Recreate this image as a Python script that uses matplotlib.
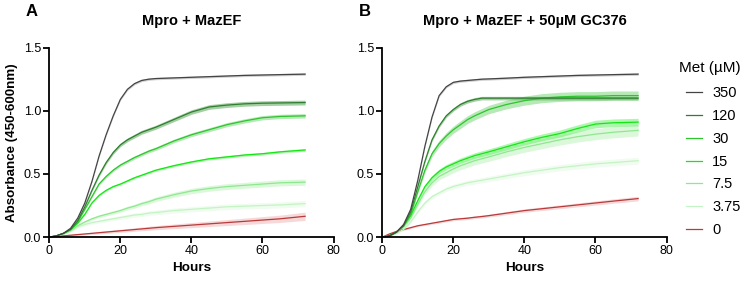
import matplotlib
matplotlib.use('Agg')
import matplotlib.pyplot as plt
import numpy as np

plt.rcParams['font.family'] = ['Liberation Sans', 'DejaVu Sans']

# sampling times (hours)
hours = [0, 2, 4, 6, 8, 10, 12, 14, 16, 18, 20, 22, 24, 26, 28, 30, 35, 40, 45, 50, 55, 60, 65, 72]

met_labels = ['350', '120', '30', '15', '7.5', '3.75', '0']
line_colors = ['#444444', '#2f7d2f', '#2ec42e', '#14e614', '#8ee88e', '#c4f4c4', '#b83a3a']
band_colors = ['#aaaaaa', '#5aa85a', '#7ad87a', '#6af06a', '#bff3bf', '#e2fae2', '#f2b8b8']

# panel A: Mpro + MazEF
a_350 = [0, 0.01, 0.03, 0.07, 0.15, 0.27, 0.44, 0.64, 0.81, 0.96, 1.09, 1.17, 1.215, 1.24, 1.25, 1.255, 1.26, 1.265, 1.27, 1.275, 1.28, 1.283, 1.286, 1.29]
a_120 = [0, 0.01, 0.03, 0.06, 0.13, 0.24, 0.37, 0.49, 0.59, 0.67, 0.73, 0.77, 0.80, 0.83, 0.85, 0.87, 0.93, 0.99, 1.03, 1.045, 1.055, 1.06, 1.062, 1.065]
a_30 = [0, 0.01, 0.03, 0.06, 0.12, 0.22, 0.32, 0.42, 0.48, 0.53, 0.57, 0.60, 0.63, 0.655, 0.68, 0.70, 0.76, 0.81, 0.85, 0.89, 0.92, 0.945, 0.955, 0.96]
a_15 = [0, 0.01, 0.03, 0.06, 0.11, 0.18, 0.27, 0.33, 0.37, 0.40, 0.42, 0.445, 0.47, 0.49, 0.51, 0.53, 0.565, 0.595, 0.62, 0.635, 0.65, 0.66, 0.675, 0.69]
a_7_5 = [0, 0.01, 0.025, 0.05, 0.09, 0.12, 0.145, 0.165, 0.18, 0.195, 0.21, 0.23, 0.245, 0.265, 0.28, 0.30, 0.335, 0.365, 0.385, 0.40, 0.41, 0.42, 0.43, 0.435]
a_3_75 = [0, 0.01, 0.025, 0.05, 0.08, 0.10, 0.115, 0.125, 0.135, 0.145, 0.155, 0.165, 0.175, 0.18, 0.19, 0.195, 0.21, 0.22, 0.23, 0.24, 0.245, 0.25, 0.255, 0.265]
a_0 = [0, 0.005, 0.01, 0.015, 0.02, 0.025, 0.03, 0.035, 0.04, 0.045, 0.05, 0.055, 0.06, 0.065, 0.07, 0.075, 0.085, 0.095, 0.105, 0.115, 0.125, 0.135, 0.145, 0.165]
a_spread = [0.005, 0.015, 0.015, 0.01, 0.05, 0.08, 0.18]  # relative error band

# panel B: Mpro + MazEF + 50uM GC376
b_350 = [0, 0.01, 0.04, 0.10, 0.22, 0.45, 0.72, 0.95, 1.12, 1.19, 1.225, 1.235, 1.24, 1.245, 1.25, 1.252, 1.258, 1.265, 1.27, 1.275, 1.28, 1.283, 1.286, 1.29]
b_120 = [0, 0.01, 0.04, 0.09, 0.20, 0.40, 0.60, 0.77, 0.88, 0.96, 1.01, 1.05, 1.075, 1.09, 1.10, 1.10, 1.10, 1.10, 1.10, 1.10, 1.10, 1.10, 1.10, 1.10]
b_30 = [0, 0.01, 0.04, 0.09, 0.18, 0.36, 0.53, 0.66, 0.74, 0.80, 0.85, 0.89, 0.93, 0.96, 0.985, 1.01, 1.05, 1.08, 1.10, 1.11, 1.115, 1.115, 1.12, 1.12]
b_15 = [0, 0.01, 0.04, 0.09, 0.17, 0.29, 0.40, 0.47, 0.52, 0.555, 0.58, 0.605, 0.625, 0.645, 0.66, 0.675, 0.715, 0.755, 0.79, 0.82, 0.86, 0.895, 0.905, 0.91]
b_7_5 = [0, 0.01, 0.035, 0.08, 0.15, 0.26, 0.36, 0.43, 0.48, 0.51, 0.54, 0.565, 0.585, 0.605, 0.62, 0.635, 0.675, 0.71, 0.74, 0.77, 0.795, 0.815, 0.83, 0.845]
b_3_75 = [0, 0.01, 0.03, 0.06, 0.12, 0.20, 0.27, 0.32, 0.35, 0.38, 0.40, 0.415, 0.43, 0.44, 0.45, 0.46, 0.485, 0.51, 0.53, 0.55, 0.565, 0.58, 0.59, 0.605]
b_0 = [0, 0.025, 0.045, 0.06, 0.075, 0.09, 0.10, 0.11, 0.12, 0.13, 0.14, 0.145, 0.15, 0.157, 0.163, 0.17, 0.19, 0.21, 0.225, 0.24, 0.255, 0.27, 0.285, 0.305]
b_spread = [0.005, 0.01, 0.03, 0.03, 0.05, 0.04, 0.05]

panels = [
    ('A', 'Mpro + MazEF', [a_350, a_120, a_30, a_15, a_7_5, a_3_75, a_0], a_spread),
    ('B', 'Mpro + MazEF + 50µM GC376', [b_350, b_120, b_30, b_15, b_7_5, b_3_75, b_0], b_spread),
]

fig = plt.figure(figsize=(7.5, 2.85), dpi=100)
lefts = [0.0657, 0.5097]
t = np.array(hours)

for (letter, title, series, spread), left in zip(panels, lefts):
    ax = fig.add_axes([left, 0.168, 0.379, 0.665])
    # draw low concentrations first so the high ones sit on top
    for i in reversed(range(len(series))):
        y = np.array(series[i])
        err = y * spread[i] + 0.003
        ax.fill_between(t, y - err, y + err, color=band_colors[i], alpha=0.55, lw=0)
        ax.plot(t, y, color=line_colors[i], lw=0.9, label=met_labels[i])
    ax.set_xlim(0, 80)
    ax.set_ylim(0, 1.5)
    ax.set_xticks([0, 20, 40, 60, 80])
    ax.set_yticks([0, 0.5, 1.0, 1.5])
    ax.set_yticklabels(['0.0', '0.5', '1.0', '1.5'])
    ax.spines['top'].set_visible(False)
    ax.spines['right'].set_visible(False)
    for s in ['left', 'bottom']:
        ax.spines[s].set_linewidth(1.3)
    ax.tick_params(width=1.3, length=4, labelsize=9, pad=2)
    ax.set_xlabel('Hours', fontsize=9.7, fontweight='bold', labelpad=3)
    ax.set_title(title, fontsize=10.5, fontweight='bold', pad=16)
    fig.text(left - 0.031, 0.96, letter, fontsize=12, fontweight='bold', va='center')
    if letter == 'A':
        ax.set_ylabel('Absorbance (450-600nm)', fontsize=9.6, fontweight='bold', labelpad=4)

handles, labels = ax.get_legend_handles_labels()
order = [labels.index(m) for m in met_labels]
fig.legend([handles[i] for i in order], [labels[i] for i in order],
           loc='upper left', bbox_to_anchor=(0.9147, 0.697),
           frameon=False, fontsize=10.5, handlelength=1.1,
           handletextpad=0.7, labelspacing=0.6, borderaxespad=0, borderpad=0)
fig.text(0.905, 0.761, 'Met (µM)', fontsize=11, va='center', ha='left')

fig.savefig('out.png', dpi=100)
